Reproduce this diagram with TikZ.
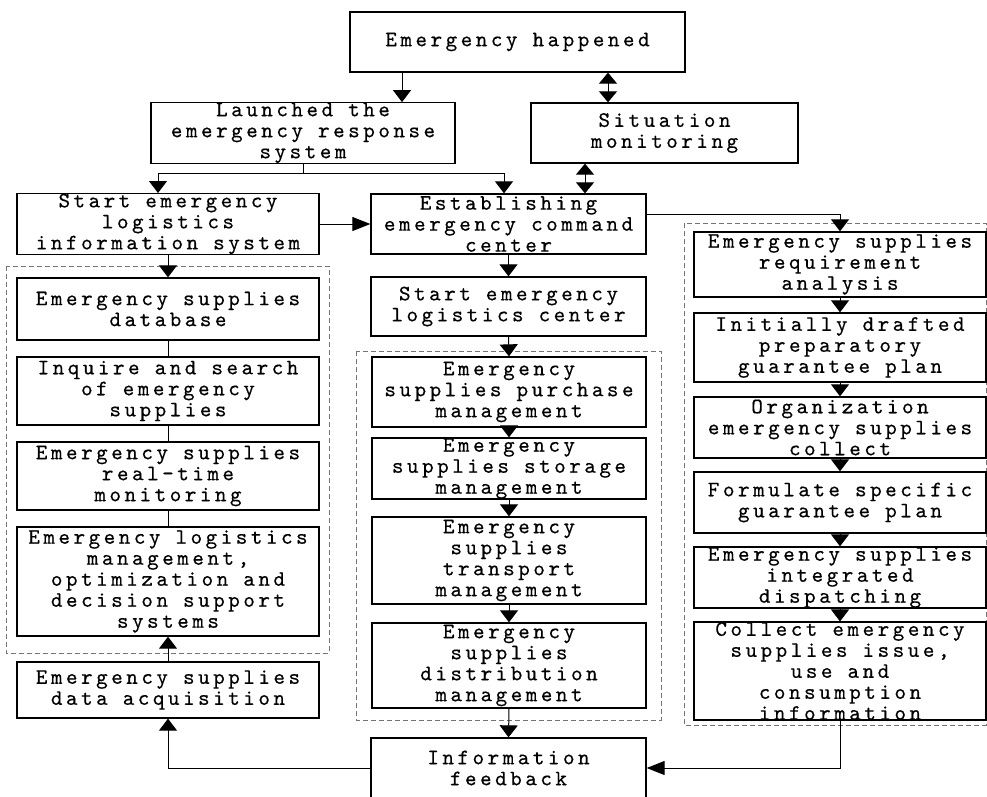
\documentclass[tikz,border=0pt]{standalone}
\usepackage{fontspec}
\setmainfont{lmmono10-regular}[Extension=.otf,LetterSpace=16,FakeBold=0.45]
\usetikzlibrary{arrows.meta,calc}
\begin{document}
\begin{tikzpicture}[x=1pt,y=-1pt,
  bx/.style={draw=black,line width=1.3pt,inner sep=0pt,align=center,
    font=\fontsize{22pt}{21pt}\selectfont},
  grp/.style={draw=black!55,dashed,dash pattern=on 5pt off 3pt,line width=0.9pt},
  ln/.style={draw=black,line width=1pt},
  varr/.style={ln,-{Triangle[width=18pt,length=12pt]}},
  darr/.style={ln,{Triangle[width=18pt,length=11pt]}-{Triangle[width=18pt,length=11pt]}},
  harr/.style={ln,-{Triangle[width=14pt,length=18pt]}}]
\useasboundingbox (0,0) rectangle (987,796);
% dashed groups
\draw[grp] (6,266) rectangle (329,653);
\draw[grp] (356,351) rectangle (661,720);
\draw[grp] (684,223) rectangle (986,725);
% boxes
\node[bx,minimum width=335pt,minimum height=60pt] (EH) at (517.5,42) {Emergency happened};
\node[bx,minimum width=304pt,minimum height=60pt] (LA) at (303,133) {Launched the\\emergency response\\system};
\node[bx,minimum width=267pt,minimum height=60pt] (SM) at (664.5,133) {Situation\\monitoring};
\node[bx,minimum width=302pt,minimum height=60pt] (EL) at (168,224) {Start emergency\\logistics\\information system};
\node[bx,minimum width=275pt,minimum height=60pt] (EC) at (508.5,224) {Establishing\\emergency command\\center};
\node[bx,minimum width=275pt,minimum height=59pt] (LC) at (508.5,306.5) {Start emergency\\logistics center};
\node[bx,minimum width=302pt,minimum height=62pt] (DB) at (168,309) {Emergency supplies\\database};
\node[bx,minimum width=302pt,minimum height=68pt] (IQ) at (168,391) {Inquire and search\\of emergency\\supplies};
\node[bx,minimum width=302pt,minimum height=68pt] (RT) at (168,476) {Emergency supplies\\real-time\\monitoring};
\node[bx,minimum width=302pt,minimum height=109pt] (LM) at (168,581.5) {Emergency logistics\\management,\\optimization and\\decision support\\systems};
\node[bx,minimum width=302pt,minimum height=56pt] (DA) at (168,690) {Emergency supplies\\data acquisition};
\node[bx,minimum width=274pt,minimum height=70pt] (PU) at (509,392) {Emergency\\supplies purchase\\management};
\node[bx,minimum width=274pt,minimum height=61pt] (ST) at (509,468.5) {Emergency\\supplies storage\\management};
\node[bx,minimum width=274pt,minimum height=87pt] (TR) at (509,560.5) {Emergency\\supplies\\transport\\management};
\node[bx,minimum width=274pt,minimum height=85pt] (DI) at (509,665.5) {Emergency\\supplies\\distribution\\management};
\node[bx,minimum width=275pt,minimum height=60pt] (IF) at (508.5,768) {Information\\feedback};
\node[bx,minimum width=292pt,minimum height=65pt] (RA) at (840,264.5) {Emergency supplies\\requirement\\analysis};
\node[bx,minimum width=292pt,minimum height=69pt] (ID) at (840,347.5) {Initially drafted\\preparatory\\guarantee plan};
\node[bx,minimum width=292pt,minimum height=61pt] (OR) at (840,427.5) {Organization\\emergency supplies\\collect};
\node[bx,minimum width=292pt,minimum height=61pt] (FO) at (840,502.5) {Formulate specific\\guarantee plan};
\node[bx,minimum width=292pt,minimum height=61pt] (IN) at (840,577.5) {Emergency supplies\\integrated\\dispatching};
\node[bx,minimum width=292pt,minimum height=96pt] (CO) at (840,671) {Collect emergency\\supplies issue,\\use and\\consumption\\information};
% connectors
\draw[varr] (EH.south -| 402,0) -- (LA.north -| 402,0);
\draw[darr] (EH.south -| 608,0) -- (SM.north -| 608,0);
\draw[darr] (SM.south -| 585,0) -- (EC.north -| 585,0);
\coordinate (sp) at (303,173);
\draw[ln] (LA.south) -- (sp);
\draw[varr] (sp) -| (EL.north -| 158,0);
\draw[varr] (sp) -| (EC.north -| 504,0);
\draw[harr] (EL.east) -- (EC.west);
\draw[varr] (EL.south) -- (DB.north);
\draw[ln] (DB.south) -- (IQ.north);
\draw[ln] (IQ.south) -- (RT.north);
\draw[ln] (RT.south) -- (LM.north);
\draw[varr] (DA.north) -- (LM.south);
\draw[varr] (EC.south) -- (LC.north);
\draw[varr] (LC.south) -- (PU.north);
\draw[varr] (PU.south) -- (ST.north);
\draw[varr] (ST.south) -- (TR.north);
\draw[varr] (TR.south) -- (DI.north);
\draw[varr] (DI.south) -- (IF.north);
\draw[varr] (EC.east |- 0,214) -| (RA.north);
\draw[varr] (RA.south) -- (ID.north);
\draw[varr] (ID.south) -- (OR.north);
\draw[varr] (OR.south) -- (FO.north);
\draw[varr] (FO.south) -- (IN.north);
\draw[varr] (IN.south) -- (CO.north);
\draw[harr] (CO.south) |- (IF.east);
\draw[varr] (IF.west) -| (DA.south);
\end{tikzpicture}
\end{document}
